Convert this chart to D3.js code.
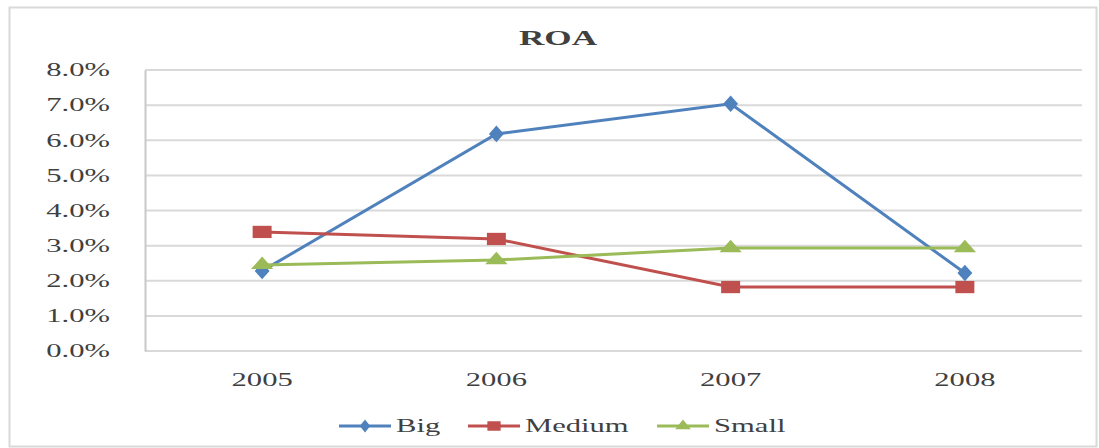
<!DOCTYPE html>
<html>
<head>
<meta charset="utf-8">
<script src="https://cdn.jsdelivr.net/npm/d3@7"></script>
<style>
  body { margin: 0; background: #fff; }
  text { font-family: "Liberation Serif", "Times New Roman", serif; fill: #404040; }
</style>
</head>
<body>
<svg width="1099" height="448"></svg>
<script>
  const years = ['2005', '2006', '2007', '2008'];
  const big = [0.0228, 0.0618, 0.0704, 0.0222];
  const medium = [0.0339, 0.0319, 0.0182, 0.0182];
  const small = [0.0245, 0.0259, 0.0293, 0.0293];
  const yTicks = [0, 0.01, 0.02, 0.03, 0.04, 0.05, 0.06, 0.07, 0.08];

  const series = [
    { name: 'Big', values: big, color: '#4f81bd', symbol: d3.symbolDiamond, size: 80 },
    { name: 'Medium', values: medium, color: '#c0504d', symbol: d3.symbolSquare, size: 150 },
    { name: 'Small', values: small, color: '#9bbb59', symbol: d3.symbolTriangle, size: 90 }
  ];

  const sx = 1.7;
  const svg = d3.select('svg');
  const margin = { top: 70, right: 17, bottom: 97, left: 145 };
  const width = +svg.attr('width');
  const height = +svg.attr('height');

  // frame
  svg.append('rect')
    .attr('x', 9.5).attr('y', 7.5)
    .attr('width', width - 12).attr('height', height - 9)
    .attr('fill', 'none').attr('stroke', '#d9d9d9').attr('stroke-width', 2);

  const xScale = d3.scaleBand()
    .domain(years)
    .range([margin.left, width - margin.right]);
  const xPos = d => xScale(d) + xScale.bandwidth() / 2;

  const yScale = d3.scaleLinear()
    .domain([0, 0.08])
    .range([height - margin.bottom, margin.top]);

  // gridlines
  svg.append('g')
    .selectAll('line').data(yTicks)
    .enter().append('line')
    .attr('x1', margin.left).attr('x2', width - margin.right)
    .attr('y1', d => yScale(d)).attr('y2', d => yScale(d))
    .attr('stroke', '#d9d9d9').attr('stroke-width', 2);

  const yAxis = d3.axisLeft(yScale)
    .tickValues(yTicks)
    .tickFormat(d3.format('.1%'))
    .tickSize(0)
    .tickPadding(35);

  const yAxisG = svg.append('g')
    .attr('transform', `translate(${margin.left},0)`)
    .call(yAxis);
  yAxisG.select('.domain').attr('stroke', '#c8c8c8').attr('stroke-width', 2);
  yAxisG.selectAll('text')
    .attr('font-size', 18)
    .attr('font-family', '"Liberation Serif", serif')
    .attr('fill', '#404040')
    .attr('x', -35 / sx)
    .attr('transform', `scale(${sx},1)`);

  const xAxis = d3.axisBottom(xScale).tickSize(0).tickPadding(22);
  const xAxisG = svg.append('g')
    .attr('transform', `translate(0,${height - margin.bottom})`)
    .call(xAxis);
  xAxisG.select('.domain').remove();
  xAxisG.selectAll('.tick text')
    .attr('font-size', 18)
    .attr('font-family', '"Liberation Serif", serif')
    .attr('fill', '#404040')
    .attr('transform', `scale(${sx},1)`);

  // title
  svg.append('text')
    .attr('transform', `translate(558,45) scale(1.6,1)`)
    .attr('text-anchor', 'middle')
    .attr('font-size', 22)
    .attr('font-weight', 'bold')
    .attr('fill', '#222')
    .text('ROA');

  // lines
  const line = d3.line()
    .x((d, i) => xPos(years[i]))
    .y(d => yScale(d));

  series.forEach(s => {
    svg.append('path')
      .datum(s.values)
      .attr('d', line)
      .attr('fill', 'none')
      .attr('stroke', s.color)
      .attr('stroke-width', 3);

    svg.append('g').selectAll('path').data(s.values)
      .enter().append('path')
      .attr('d', d3.symbol().type(s.symbol).size(s.size))
      .attr('transform', (d, i) => `translate(${xPos(years[i])},${yScale(d)}) scale(1.55,1)`)
      .attr('fill', s.color);
  });

  // legend
  const legendX = [339, 468, 657];
  const legendY = 426;
  const legend = svg.append('g').selectAll('g').data(series)
    .enter().append('g')
    .attr('transform', (d, i) => `translate(${legendX[i]},${legendY})`);
  legend.append('line')
    .attr('x1', 0).attr('x2', 52)
    .attr('stroke', d => d.color).attr('stroke-width', 3);
  legend.append('path')
    .attr('d', d => d3.symbol().type(d.symbol).size(d.size * 0.6)())
    .attr('transform', 'translate(26,0) scale(1.4,1)')
    .attr('fill', d => d.color);
  legend.append('text')
    .attr('transform', `translate(57,6) scale(${sx},1)`)
    .attr('font-size', 18)
    .attr('fill', '#404040')
    .text(d => d.name);
</script>
</body>
</html>
